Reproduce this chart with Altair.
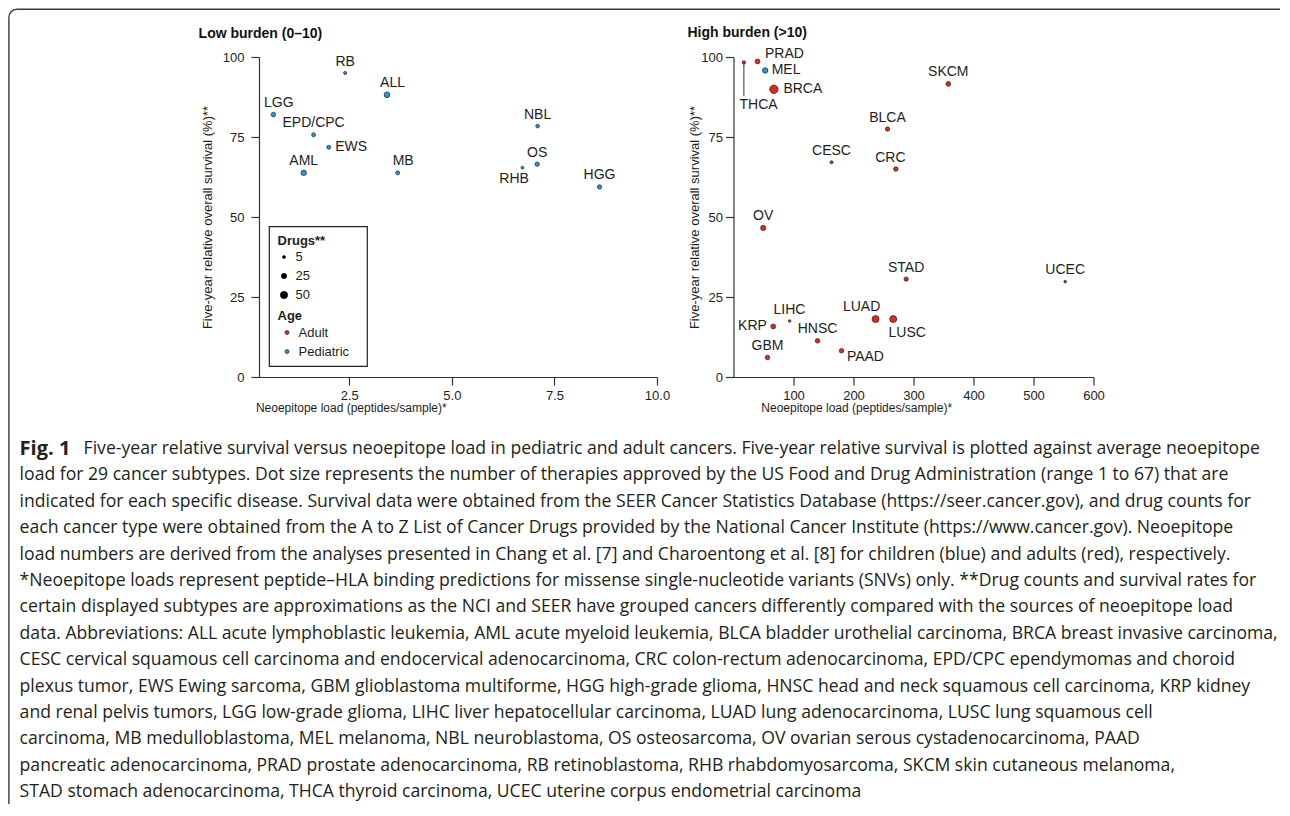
import altair as alt
import pandas as pd

# ---------------- data ----------------
low_names = ["RB", "ALL", "LGG", "EPD/CPC", "EWS", "AML", "MB", "NBL", "OS", "RHB", "HGG"]
low_load = [2.40, 3.42, 0.65, 1.63, 2.00, 1.39, 3.68, 7.09, 7.08, 6.72, 8.60]
low_survival = [95.0, 88.2, 82.0, 75.7, 71.8, 63.8, 63.8, 78.4, 66.5, 65.4, 59.4]
low_drugs = [5, 28, 16, 11, 11, 25, 11, 9, 14, 3, 14]
low_age = ["Pediatric"] * 11
low_label_pos = ["above", "above_r", "above_r", "above", "right", "above",
                 "above_r", "above", "above", "below_l", "above"]

high_names = ["THCA", "PRAD", "MEL", "BRCA", "SKCM", "BLCA", "CESC", "CRC", "OV",
              "STAD", "UCEC", "LIHC", "KRP", "LUAD", "LUSC", "HNSC", "PAAD", "GBM"]
high_load = [17.3, 40.0, 52.8, 67.3, 358.0, 256.7, 163.4, 270.6, 49.5,
             287.8, 552.8, 93.4, 66.2, 236.8, 266.2, 140.0, 180.0, 56.7]
high_survival = [98.3, 98.6, 95.8, 89.9, 91.6, 77.5, 67.1, 65.0, 46.6,
                 30.6, 29.8, 17.5, 15.8, 18.1, 18.1, 11.3, 8.2, 6.1]
high_drugs = [7, 19, 25, 67, 19, 14, 5, 16, 22, 14, 2, 2, 19, 45, 45, 16, 16, 16]
high_age = ["Adult", "Adult", "Pediatric", "Adult", "Adult", "Adult", "Adult", "Adult", "Adult",
            "Adult", "Adult", "Adult", "Adult", "Adult", "Adult", "Adult", "Adult", "Adult"]
high_label_pos = ["below_leader", "right_up", "right", "right_big", "above", "above", "above",
                  "above_l", "above", "above", "above", "above", "left", "above_ll",
                  "below_r", "above", "below_rr", "above"]

age_levels = ["Adult", "Pediatric"]
legend_drug_values = [5, 25, 50]
low_x_ticks = [2.5, 5.0, 7.5, 10.0]
high_x_ticks = [100, 200, 300, 400, 500, 600]
y_ticks = [0, 25, 50, 75, 100]

caption_rows = [
    "Five-year relative survival versus neoepitope load in pediatric and adult cancers. Five-year relative survival is plotted against average neoepitope",
    "load for 29 cancer subtypes. Dot size represents the number of therapies approved by the US Food and Drug Administration (range 1 to 67) that are",
    "indicated for each specific disease. Survival data were obtained from the SEER Cancer Statistics Database (https://seer.cancer.gov), and drug counts for",
    "each cancer type were obtained from the A to Z List of Cancer Drugs provided by the National Cancer Institute (https://www.cancer.gov). Neoepitope",
    "load numbers are derived from the analyses presented in Chang et al. [7] and Charoentong et al. [8] for children (blue) and adults (red), respectively.",
    "*Neoepitope loads represent peptide\u2013HLA binding predictions for missense single-nucleotide variants (SNVs) only. **Drug counts and survival rates for",
    "certain displayed subtypes are approximations as the NCI and SEER have grouped cancers differently compared with the sources of neoepitope load",
    "data. Abbreviations: ALL acute lymphoblastic leukemia, AML acute myeloid leukemia, BLCA bladder urothelial carcinoma, BRCA breast invasive carcinoma,",
    "CESC cervical squamous cell carcinoma and endocervical adenocarcinoma, CRC colon-rectum adenocarcinoma, EPD/CPC ependymomas and choroid",
    "plexus tumor, EWS Ewing sarcoma, GBM glioblastoma multiforme, HGG high-grade glioma, HNSC head and neck squamous cell carcinoma, KRP kidney",
    "and renal pelvis tumors, LGG low-grade glioma, LIHC liver hepatocellular carcinoma, LUAD lung adenocarcinoma, LUSC lung squamous cell",
    "carcinoma, MB medulloblastoma, MEL melanoma, NBL neuroblastoma, OS osteosarcoma, OV ovarian serous cystadenocarcinoma, PAAD",
    "pancreatic adenocarcinoma, PRAD prostate adenocarcinoma, RB retinoblastoma, RHB rhabdomyosarcoma, SKCM skin cutaneous melanoma,",
    "STAD stomach adenocarcinoma, THCA thyroid carcinoma, UCEC uterine corpus endometrial carcinoma",
]

# ---------------- styles ----------------
F = "Liberation Sans"
NARROW = "Liberation Sans Narrow, Liberation Sans"
CAP_FONT = "Open Sans"
TXT = "#1e1e1e"
AX = "#333333"
RED = "#e0291c"
BLUE = "#1c9bd6"
PW_L, PW_R, PH = 398, 360, 320

PLACE = {
    "above": dict(dx=0, dy=-11.5, align="center"),
    "above_r": dict(dx=5.5, dy=-11.5, align="center"),
    "above_l": dict(dx=-5.5, dy=-11.5, align="center"),
    "above_ll": dict(dx=-14, dy=-12, align="center"),
    "right": dict(dx=6.5, dy=0, align="left"),
    "right_big": dict(dx=9.5, dy=-0.5, align="left"),
    "right_up": dict(dx=7.5, dy=-7.3, align="left"),
    "left": dict(dx=-6.3, dy=-0.5, align="right"),
    "below_l": dict(dx=-8.3, dy=11.6, align="center"),
    "below_r": dict(dx=14, dy=13.6, align="center"),
    "below_rr": dict(dx=5.4, dy=6.4, align="left"),
    "below_leader": dict(dx=-4.4, dy=42.7, align="left"),
}

low_df = pd.DataFrame({"name": low_names, "load": low_load, "survival": low_survival,
                       "drugs": low_drugs, "age": low_age, "pos": low_label_pos})
high_df = pd.DataFrame({"name": high_names, "load": high_load, "survival": high_survival,
                        "drugs": high_drugs, "age": high_age, "pos": high_label_pos})

color_scale = alt.Scale(domain=age_levels, range=[RED, BLUE])
size_scale = alt.Scale(domain=[1, 67], range=[6, 71], zero=False)


def x_axis(values, fmt, title_x):
    return alt.Axis(values=values, format=fmt, title="Neoepitope load (peptides/sample)*",
                    grid=False, domainColor=AX, domainWidth=1.2, tickColor=AX, tickWidth=1.2,
                    tickSize=8, labelPadding=4, labelFont=F, labelFontSize=13, labelColor=TXT,
                    labelFlush=False, labelOverlap=False,
                    titleFont=NARROW, titleFontSize=12, titleFontWeight="normal", titleColor=TXT,
                    titleX=title_x, titleY=30, titleAlign="center", titleBaseline="middle")


def y_axis(label_pad, title_x):
    return alt.Axis(values=y_ticks, format="d", title="Five-year relative overall survival (%)**",
                    grid=False, domainColor=AX, domainWidth=1.2, tickColor=AX, tickWidth=1.2,
                    tickSize=8, labelPadding=label_pad, labelFont=F, labelFontSize=13,
                    labelColor=TXT, labelFlush=False, labelOverlap=False,
                    titleFont=F, titleFontSize=13, titleFontWeight="normal", titleColor=TXT,
                    titleX=title_x, titleY=PH / 2, titleAngle=270, titleAlign="center",
                    titleBaseline="middle")


def panel(df, x_dom, x_ticks, x_fmt, x_title_x, y_label_pad, y_title_x, show_legend,
          width, title, title_dx, title_offset):
    xenc = alt.X("load:Q", scale=alt.Scale(domain=x_dom, nice=False, zero=False),
                 axis=x_axis(x_ticks, x_fmt, x_title_x))
    yenc = alt.Y("survival:Q", scale=alt.Scale(domain=[0, 100], nice=False),
                 axis=y_axis(y_label_pad, y_title_x))
    base = alt.Chart(df).encode(x=xenc, y=yenc)

    if show_legend:
        color_legend = alt.Legend(title="Age", orient="none", legendX=18.5, legendY=253,
                                  padding=0, titlePadding=3, titleFont=F, titleFontSize=13,
                                  titleFontWeight="bold", titleColor=TXT, labelFont=F,
                                  labelFontSize=13, labelColor=TXT, rowPadding=5,
                                  symbolType="circle", symbolSize=16, symbolStrokeColor="#222",
                                  symbolStrokeWidth=0.7, symbolOpacity=1, symbolOffset=3,
                                  labelOffset=5)
        size_legend = alt.Legend(title="Drugs**", values=legend_drug_values, orient="none",
                                 legendX=18.5, legendY=177.5, padding=0, titlePadding=3,
                                 titleFont=F, titleFontSize=13, titleFontWeight="bold",
                                 titleColor=TXT, labelFont=F, labelFontSize=13, labelColor=TXT,
                                 rowPadding=5, symbolType="circle", symbolFillColor="black",
                                 symbolStrokeColor="black", symbolStrokeWidth=0.5,
                                 symbolOpacity=1, labelOffset=5)
    else:
        color_legend = None
        size_legend = None

    cenc = alt.Color("age:N", scale=color_scale, legend=color_legend)
    senc = alt.Size("drugs:Q", scale=size_scale, legend=size_legend)

    layers = []
    if show_legend:
        box = alt.Chart(pd.DataFrame({"k": [0]})).mark_rect(
            fill="white", stroke="#222", strokeWidth=1.2
        ).encode(x=alt.value(10.3), x2=alt.value(108.3), y=alt.value(169.7), y2=alt.value(309.3))
        layers.append(box)

    if "below_leader" in set(df["pos"]):
        leader = base.transform_filter(alt.datum.pos == "below_leader").mark_rule(
            color=AX, strokeWidth=1, y2Offset=33.4
        ).encode(y2=alt.Y2("survival:Q"))
        layers.append(leader)

    pts = base.mark_circle(opacity=1, stroke="#262626", strokeWidth=0.7).encode(
        color=cenc, size=senc)
    layers.append(pts)

    for p in sorted(set(df["pos"])):
        spec = PLACE[p]
        lab = base.transform_filter(alt.datum.pos == p).mark_text(
            font=F, fontSize=14, color=TXT, baseline="middle",
            dx=spec["dx"], dy=spec["dy"], align=spec["align"]
        ).encode(text="name:N")
        layers.append(lab)

    return alt.layer(*layers).properties(
        width=width, height=PH,
        title=alt.TitleParams(text=title, anchor="start", frame="group", dx=title_dx,
                              offset=title_offset, font=F, fontSize=14, fontWeight="bold",
                              color="#111"))


left = panel(low_df, [0.3, 10], low_x_ticks, ".1f", 91.8, 7, -51.7, True, PW_L,
             "Low burden (0\u201310)", -60.4, 10)
right = panel(high_df, [0, 600], high_x_ticks, "d", 122.7, 3, -39.3, False, PW_R,
              "High burden (>10)", -46, 7.5)

top = alt.hconcat(left, right, spacing=76.5, bounds="flush").resolve_scale(
    color="independent", size="independent").resolve_legend(
    color="independent", size="independent")

# ---------------- caption + frame (positions relative to caption view origin) ----------------
CAP_X0 = -239.4
CAP_X1 = -175.4
CAP_Y0 = 50
CAP_LH = 26.4

cap_df = pd.DataFrame({"row": list(range(len(caption_rows))), "line": caption_rows})
cap_text = alt.Chart(cap_df).transform_calculate(
    ypix=f"{CAP_Y0} + datum.row * {CAP_LH}",
    xpix=f"datum.row == 0 ? {CAP_X1} : {CAP_X0}",
).mark_text(align="left", baseline="middle", font=CAP_FONT, fontSize=17.6, color="#231f20").encode(
    x=alt.X("xpix:Q", scale=None, axis=None),
    y=alt.Y("ypix:Q", scale=None, axis=None),
    text="line:N",
)
fig_label = alt.Chart(pd.DataFrame({"t": ["Fig. 1"]})).mark_text(
    align="left", baseline="middle", font=CAP_FONT, fontSize=20, fontWeight="bold",
    color="#231f20"
).encode(x=alt.value(CAP_X0), y=alt.value(CAP_Y0), text="t:N")

one = pd.DataFrame({"k": [0]})
frame_top = alt.Chart(one).mark_rule(color="#3a3a3a", strokeWidth=1.4).encode(
    x=alt.value(-242.1), x2=alt.value(1021.0), y=alt.value(-389.7))
frame_left = alt.Chart(one).mark_rule(color="#3a3a3a", strokeWidth=1.4).encode(
    x=alt.value(-250.1), y=alt.value(-381.7), y2=alt.value(405))
frame_corner = alt.Chart(one).mark_arc(
    theta=4.712389, theta2=6.283185, radius=8.7, radius2=7.3, color="#3a3a3a"
).encode(x=alt.value(-242.1), y=alt.value(-381.7))

caption = alt.layer(frame_top, frame_left, frame_corner, cap_text, fig_label).properties(
    width=1, height=1)

# a nested concat counts as zero height in a flush layout, so the spacing holds the panel height too
chart = alt.vconcat(top, caption, spacing=PH + 22, bounds="flush").properties(
    padding={"left": 0, "top": 0, "right": 0, "bottom": 0},
    background="white",
).configure_view(stroke=None)

chart.save("out.html", embed_options={"renderer": "svg", "actions": False})
